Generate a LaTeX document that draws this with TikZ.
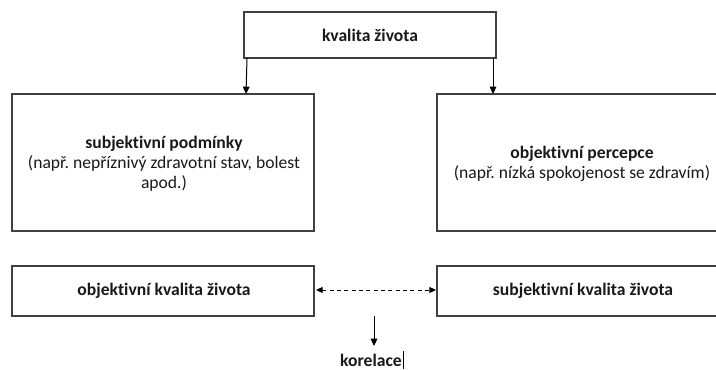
\documentclass[tikz,border=0pt]{standalone}
\usepackage{fontspec}
\setmainfont{Carlito}[Ligatures={NoCommon}]
\frenchspacing
\usetikzlibrary{arrows.meta}
\begin{document}
\begin{tikzpicture}[x=0.75pt,y=-0.75pt,
  every node/.style={font=\fontsize{13.2pt}{15pt}\selectfont, text=black!90, align=center, inner sep=0pt},
  frame/.style={draw=black!75, line width=0.8pt},
  link/.style={draw=black, line width=0.75pt, -{Triangle[length=5.5pt,width=5pt]}},
  both/.style={draw=black, line width=0.75pt, dash pattern=on 3pt off 2.5pt,
    {Triangle[length=5pt,width=4.5pt]}-{Triangle[length=5pt,width=4.5pt]}}]
  \clip (0,0) rectangle (716,370);
  \fill[white] (0,0) rectangle (716,370);

  % boxes
  \draw[frame] (244,12) rectangle (496,58);
  \node (top) at (370,35) {\textbf{kvalita života}};
  \coordinate (topL) at (247,58);
  \coordinate (topR) at (493,58);

  \draw[frame] (12,94) rectangle (314,231);
  \node (subj) at (164,164) {\textbf{subjektivní podmínky}\\(např. nepříznivý zdravotní stav, bolest\\apod.)};
  \coordinate (subjT) at (246,94);

  \draw[frame] (437,94) rectangle (728,231);
  \node (obj) at (582,164) {\textbf{objektivní percepce}\\(např. nízká spokojenost se zdravím)};
  \coordinate (objT) at (493,94);

  \draw[frame] (12,266) rectangle (314,316);
  \node (okz) at (164,291) {\textbf{objektivní kvalita života}};
  \coordinate (okzR) at (316,290);

  \draw[frame] (437,266) rectangle (728,316);
  \node (skz) at (583,291) {\textbf{subjektivní kvalita života}};
  \coordinate (skzL) at (436,290);

  % connectors
  \draw[link] (topL) -- (subjT);
  \draw[link] (topR) -- (objT);
  \draw[both] (okzR) -- (skzL);

  \coordinate (kT) at (374,316);
  \node[anchor=base] (kor) at (371,366) {\textbf{korelace}};
  \draw[link] (kT) -- (374,346);
  \draw[line width=0.7pt] (kor.east) ++(1,-9) -- ++(0,18);
\end{tikzpicture}
\end{document}
